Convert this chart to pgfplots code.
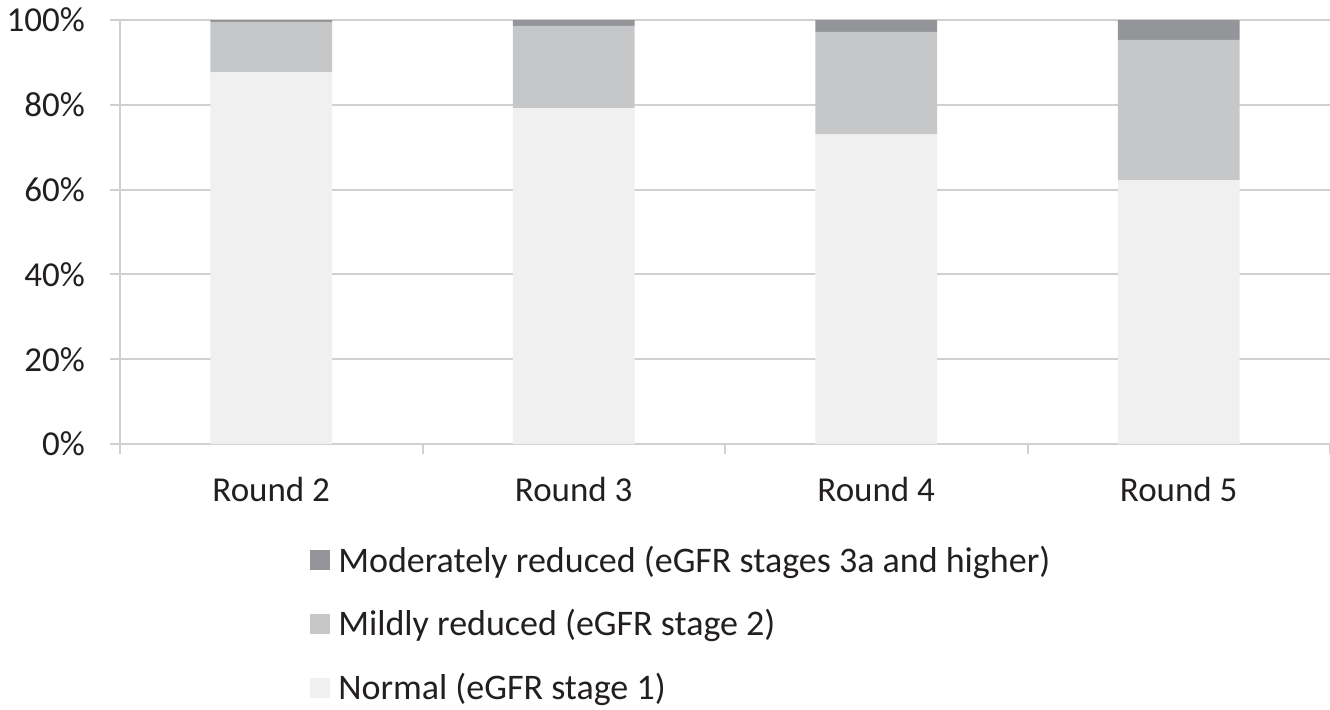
\documentclass[border=0pt]{standalone}
\usepackage{pgfplots}
\pgfplotsset{compat=1.18}
\usepackage{fontspec}
\setmainfont{Carlito}
\definecolor{cmod}{HTML}{939598}
\definecolor{cmild}{HTML}{C6C7C9}
\definecolor{cnorm}{HTML}{F0F0F0}
\definecolor{cgrid}{HTML}{D0D0D0}
\definecolor{ctext}{HTML}{231F20}
\begin{document}
\begin{tikzpicture}
\begin{axis}[name=ax,
  scale only axis, width=605pt, height=212pt,
  ybar stacked, bar width=0.402,
  xmin=0.5, xmax=4.5, ymin=0, ymax=100,
  xtick={1,2,3,4}, xticklabels={Round 2,Round 3,Round 4,Round 5},
  minor xtick={0.5,1.5,2.5,3.5,4.5},
  major x tick style={draw=none},
  minor tick length=5pt, major tick length=5pt,
  tick align=outside, xtick pos=bottom, ytick pos=left,
  ytick={0,20,40,60,80,100},
  yticklabel={\pgfmathprintnumber{\tick}\%},
  /pgf/number format/assume math mode=true,
  ymajorgrids, grid style={cgrid, line width=1pt},
  axis line style={cgrid, line width=1pt},
  tick style={cgrid, line width=1pt},
  axis x line*=bottom, axis y line*=left,
  ticklabel style={font=\fontsize{17.5}{21}\selectfont, text=ctext},
  xticklabel style={yshift=-8pt},
  yticklabel style={xshift=-9pt},
  legend style={draw=none, fill=none, at={(0.152,-0.22)}, anchor=north west,
    font=\fontsize{18}{22}\selectfont, text=ctext, row sep=13.3pt},
  legend cell align=left, reverse legend,
  legend image code/.code={\fill[#1] (0pt,-5pt) rectangle (10pt,5pt); \path (12pt,0pt);},
  every axis plot/.append style={draw=none},
]
\addplot[fill=cnorm] coordinates {(1,87.7) (2,79.2) (3,73.0) (4,62.2)};
\addlegendentry{Normal (eGFR stage 1)}
\addplot[fill=cmild] coordinates {(1,11.8) (2,19.4) (3,24.2) (4,33.1)};
\addlegendentry{Mildly reduced (eGFR stage 2)}
\addplot[fill=cmod] coordinates {(1,0.5) (2,1.4) (3,2.8) (4,4.7)};
\addlegendentry{Moderately reduced (eGFR stages 3a and higher)}
\end{axis}
\pgfresetboundingbox
\path[use as bounding box] ([shift={(-60pt,-132.5pt)}]ax.south west) rectangle ([shift={(0pt,10pt)}]ax.north east);
\end{tikzpicture}
\end{document}
